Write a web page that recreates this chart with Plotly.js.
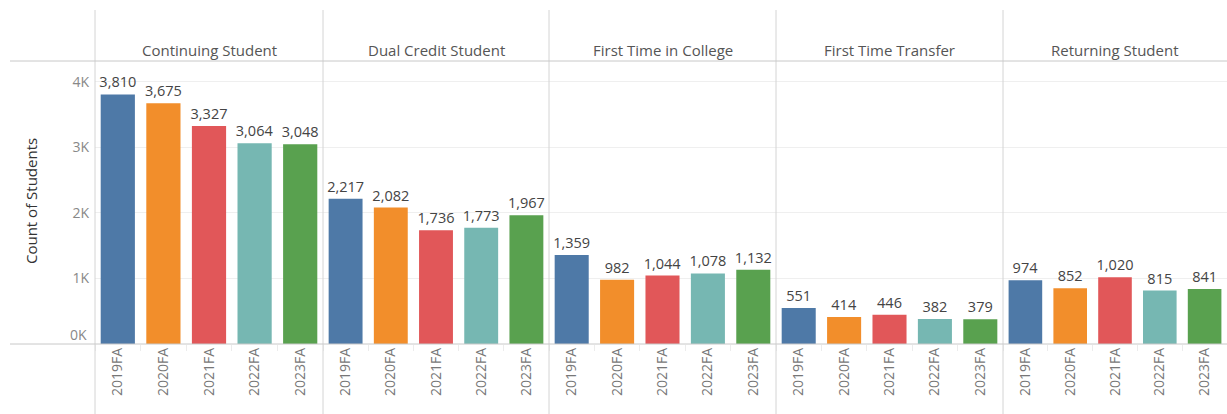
<!DOCTYPE html>
<html>
<head>
<meta charset="utf-8">
<script src="https://cdn.plot.ly/plotly-3.0.1.min.js"></script>
<style>html,body{margin:0;padding:0;background:#fff;}#chart{width:1227px;height:414px;}</style>
</head>
<body>
<div id="chart"></div>
<script>
const terms = ["2019FA", "2020FA", "2021FA", "2022FA", "2023FA"];
const panels = ["Continuing Student", "Dual Credit Student", "First Time in College", "First Time Transfer", "Returning Student"];
const continuing = [3810, 3675, 3327, 3064, 3048];
const dualCredit = [2217, 2082, 1736, 1773, 1967];
const firstTimeCollege = [1359, 982, 1044, 1078, 1132];
const firstTimeTransfer = [551, 414, 446, 382, 379];
const returning = [974, 852, 1020, 815, 841];
const yTickVals = [0, 1000, 2000, 3000, 4000];
const yTickText = ["0K", "1K", "2K", "3K", "4K"];
const colors = ["#4e79a7", "#f28e2b", "#e15759", "#76b7b2", "#59a14f"];

const series = [continuing, dualCredit, firstTimeCollege, firstTimeTransfer, returning];
const FONT = "'Open Sans', sans-serif";
const W = 1227, H = 414, L = 95, T = 61, B = 70;
const pw = W - L, ph = H - T - B;
const bounds = [95, 323, 549, 776, 1003, 1227].map(px => (px - L) / pw);

const traces = series.map((vals, i) => ({
  type: "bar",
  x: terms,
  y: vals,
  xaxis: i === 0 ? "x" : "x" + (i + 1),
  yaxis: "y",
  marker: {color: colors},
  texttemplate: "%{y:,}",
  textposition: "outside",
  constraintext: "none",
  textfont: {family: FONT, size: 14.5, color: "#444"},
  cliponaxis: false,
  hoverinfo: "x+y",
  showlegend: false
}));

const layout = {
  width: W, height: H,
  margin: {l: L, r: 0, t: T, b: B, pad: 0},
  paper_bgcolor: "#fff", plot_bgcolor: "#fff",
  font: {family: FONT, color: "#666"},
  bargap: 0.25,
  separators: ".,",
  yaxis: {
    range: [0, 4320],
    tickvals: yTickVals,
    ticktext: yTickText.map((t, i) => i === 0 ? "" : t),
    tickfont: {family: FONT, size: 14, color: "#888"},
    showgrid: true, gridcolor: "#efefef", gridwidth: 1,
    zeroline: false, showline: false, ticks: "", ticklabelstandoff: 5
  },
  shapes: [],
  annotations: []
};

for (let i = 0; i < 5; i++) {
  const key = i === 0 ? "xaxis" : "xaxis" + (i + 1);
  layout[key] = {
    domain: [bounds[i], bounds[i + 1]],
    anchor: "y",
    type: "category",
    tickangle: -90,
    tickfont: {family: FONT, size: 14, color: "#777"},
    ticks: "outside", tickson: "boundaries", ticklen: 6, tickcolor: "#ececec",
    showgrid: false, zeroline: false, showline: false,
    fixedrange: true
  };
  layout.annotations.push({
    text: panels[i], xref: "paper", yref: "paper",
    x: (bounds[i] + bounds[i + 1]) / 2, y: (H - B - 50) / ph,
    showarrow: false, font: {family: FONT, size: 15, color: "#555"},
    xanchor: "center", yanchor: "middle"
  });
}
// 0K label sits just above the baseline
layout.annotations.push({
  text: yTickText[0], xref: "paper", yref: "paper",
  x: (89 - L) / pw, y: (H - B - 334) / ph,
  showarrow: false, font: {family: FONT, size: 14, color: "#888"},
  xanchor: "right", yanchor: "middle"
});
// panel separator lines
[95, 323, 549, 776, 1003].forEach(px => {
  layout.shapes.push({
    type: "line", xref: "paper", yref: "paper",
    x0: (px - L) / pw, x1: (px - L) / pw,
    y0: (H - B - 414) / ph, y1: (H - B - 10) / ph,
    line: {color: "#d4d4d4", width: 1}
  });
});
// header bottom line and baseline
[61, 344].forEach(py => {
  layout.shapes.push({
    type: "line", xref: "paper", yref: "paper",
    x0: (10 - L) / pw, x1: 1,
    y0: (H - B - py) / ph, y1: (H - B - py) / ph,
    line: {color: "#c8c8c8", width: 1}
  });
});
layout.annotations.push({
  text: "Count of Students", xref: "paper", yref: "paper",
  x: (31 - L) / pw, y: (H - B - 201) / ph, textangle: -90,
  showarrow: false, font: {family: FONT, size: 15, color: "#333"},
  xanchor: "center", yanchor: "middle"
});

Plotly.newPlot("chart", traces, layout, {displayModeBar: false, staticPlot: true});
</script>
</body>
</html>
